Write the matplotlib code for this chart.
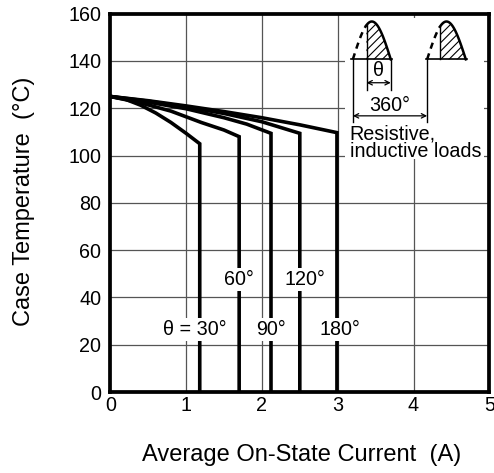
import numpy as np
import matplotlib
matplotlib.use("Agg")
import matplotlib.pyplot as plt
from matplotlib.patches import Rectangle

plt.rcParams['font.family'] = ['Liberation Sans', 'DejaVu Sans']
plt.rcParams['hatch.linewidth'] = 0.8

# ---- data ----
angle_labels = ["\u03b8 = 30\u00b0", "60\u00b0", "90\u00b0", "120\u00b0", "180\u00b0"]
curve_x = [
    [0.0, 0.2, 0.4, 0.6, 0.8, 1.0, 1.18],
    [0.0, 0.4, 0.8, 1.2, 1.5, 1.70],
    [0.0, 0.5, 1.0, 1.5, 1.8, 2.12],
    [0.0, 0.5, 1.0, 1.5, 2.0, 2.50],
    [0.0, 0.5, 1.0, 1.5, 2.0, 2.5, 2.99],
]
curve_y = [
    [125.0, 123.8, 121.3, 118.0, 114.0, 109.4, 105.0],
    [125.0, 122.3, 118.8, 114.0, 110.8, 108.0],
    [125.0, 122.6, 119.8, 116.0, 113.3, 109.4],
    [125.0, 123.0, 120.6, 117.8, 114.3, 109.4],
    [125.0, 123.2, 121.0, 118.6, 116.0, 113.0, 109.7],
]
label_x = [1.11, 1.70, 2.12, 2.57, 3.03]
label_y = [26.5, 47.5, 26.5, 47.5, 26.5]

x_ticks = [0, 1, 2, 3, 4, 5]
y_ticks = [0, 20, 40, 60, 80, 100, 120, 140, 160]

fs = 14.2
fs_lab = 17

fig = plt.figure(figsize=(4.94, 4.73), dpi=100)
ax = fig.add_axes([110.3 / 494, 1 - 392 / 473, 379 / 494, 378.3 / 473])
ax.set_xlim(0, 5)
ax.set_ylim(0, 160)
ax.set_xticks(x_ticks)
ax.set_yticks(y_ticks)
ax.tick_params(length=0, labelsize=fs)
ax.tick_params(axis='x', pad=3)
ax.tick_params(axis='y', pad=6.5)
for s in ax.spines.values():
    s.set_linewidth(2.7)
    s.set_zorder(10)

# grid
for xv in x_ticks[1:-1]:
    ax.axvline(xv, color='#555555', lw=0.9, zorder=1)
for yv in y_ticks[1:-1]:
    ax.axhline(yv, color='#555555', lw=0.9, zorder=1)

# curves
for xs, ys in zip(curve_x, curve_y):
    xs2 = list(xs) + [xs[-1]]
    ys2 = list(ys) + [0]
    ax.plot(xs2, ys2, color='black', lw=2.6, zorder=3, solid_joinstyle='miter')

for t, xv, yv in zip(angle_labels, label_x, label_y):
    ax.text(xv, yv, t, ha='center', va='center', fontsize=fs, zorder=5,
            bbox=dict(facecolor='white', edgecolor='none', pad=1.5))

# inset white area
ax.add_patch(Rectangle((3.10, 98.5), 1.83, 59.7, facecolor='white',
                       edgecolor='none', zorder=2))

# waveform icon
base = 140.7
peak = 16.0
humps = [(3.20, 3.70, 3.38), (4.18, 4.69, 4.35)]
for a, b, h in humps:
    t = np.linspace(0, 1, 60)
    xs = a + (b - a) * t
    ys = base + peak * np.sin(np.pi * t)
    m1 = xs <= h + 0.005
    ax.plot(xs[m1], ys[m1], color='black', lw=1.8, ls=(0, (2.5, 2)), zorder=4)
    m2 = xs >= h - 0.005
    ax.plot(xs[m2], ys[m2], color='black', lw=1.8, zorder=4)
    ax.fill_between(xs[m2], base, ys[m2], facecolor='none', edgecolor='black',
                    hatch='////', lw=0, zorder=3)
    yh = base + peak * np.sin(np.pi * (h - a) / (b - a))
    ax.plot([h, h], [base, yh], color='black', lw=1.0, zorder=4)
    ax.plot([a - 0.02, b + 0.01], [base, base], color='black', lw=1.2, zorder=4)

# dimension lines
a1, b1, h1 = humps[0]
a2 = humps[1][0]
ax.plot([h1, h1], [base, 127.7], color='black', lw=1.0, zorder=4)
ax.plot([b1, b1], [base, 127.7], color='black', lw=1.0, zorder=4)
ax.annotate('', xy=(h1, 130.8), xytext=(b1, 130.8),
            arrowprops=dict(arrowstyle='<->', lw=0.9, color='black',
                            shrinkA=0, shrinkB=0, mutation_scale=8), zorder=4)
ax.text((h1 + b1) / 2, 135.8, '\u03b8', ha='center', va='center', fontsize=fs,
        zorder=5)
ax.plot([a1, a1], [base, 114.3], color='black', lw=1.0, zorder=4)
ax.plot([a2, a2], [base, 114.3], color='black', lw=1.0, zorder=4)
ax.annotate('', xy=(a1, 116.8), xytext=(a2, 116.8),
            arrowprops=dict(arrowstyle='<->', lw=0.9, color='black',
                            shrinkA=0, shrinkB=0, mutation_scale=8), zorder=4)
ax.text(3.69, 121.3, '360\u00b0', ha='center', va='center', fontsize=fs, zorder=5)
ax.text(3.16, 109.1, 'Resistive,', ha='left', va='center', fontsize=fs, zorder=5)
ax.text(3.16, 101.7, 'inductive loads', ha='left', va='center', fontsize=fs, zorder=5)

fig.text(24 / 494, 1 - 201.7 / 473, 'Case Temperature  (\u00b0C)', rotation=90,
         ha='center', va='center', fontsize=fs_lab)
fig.text(301.7 / 494, 1 - 455 / 473, 'Average On-State Current  (A)',
         ha='center', va='center', fontsize=fs_lab)

fig.savefig('out.png', dpi=100)
